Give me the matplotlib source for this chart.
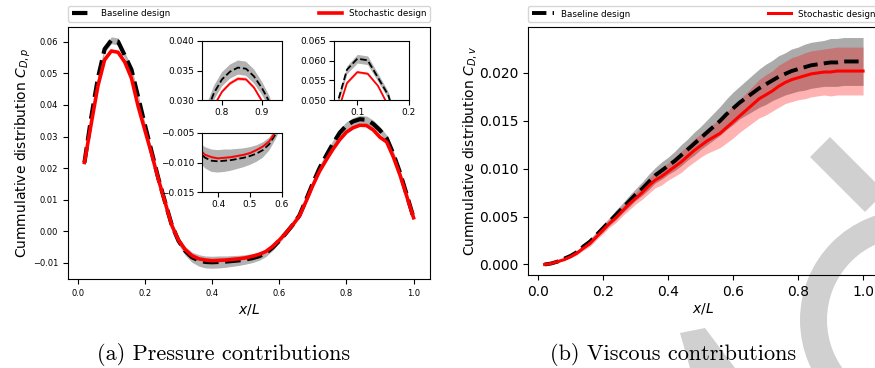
import matplotlib
matplotlib.use("Agg")
import numpy as np
import matplotlib.pyplot as plt
from matplotlib.patches import Wedge, Polygon

# x/L stations
x = [0.02, 0.04, 0.06, 0.08, 0.10, 0.12, 0.14, 0.16, 0.18, 0.20,
     0.22, 0.24, 0.26, 0.28, 0.30, 0.32, 0.34, 0.36, 0.38, 0.40,
     0.42, 0.44, 0.46, 0.48, 0.50, 0.52, 0.54, 0.56, 0.58, 0.60,
     0.62, 0.64, 0.66, 0.68, 0.70, 0.72, 0.74, 0.76, 0.78, 0.80,
     0.82, 0.84, 0.86, 0.88, 0.90, 0.92, 0.94, 0.96, 0.98, 1.00]

# pressure contribution, baseline (mean, std)
base_p = [0.0218, 0.0360, 0.0485, 0.0577, 0.0605, 0.0601, 0.0557, 0.0512, 0.0425, 0.0337,
          0.0252, 0.0168, 0.0093, 0.0020, -0.0030, -0.0062, -0.0082, -0.0092, -0.0097, -0.0098,
          -0.0097, -0.0096, -0.0094, -0.0092, -0.0089, -0.0085, -0.0079, -0.0069, -0.0052, -0.0030,
          -0.0006, 0.0020, 0.0050, 0.0100, 0.0152, 0.0200, 0.0240, 0.0278, 0.0312, 0.0335,
          0.0348, 0.0355, 0.0353, 0.0340, 0.0320, 0.0295, 0.0245, 0.0185, 0.0115, 0.0043]
base_p_std = [0.0003, 0.0006, 0.0008, 0.0010, 0.0011, 0.0011, 0.0010, 0.0009, 0.0008, 0.0007,
              0.0007, 0.0007, 0.0008, 0.0010, 0.0012, 0.0014, 0.0016, 0.0018, 0.0019, 0.0019,
              0.0019, 0.0018, 0.0017, 0.0016, 0.0015, 0.0014, 0.0013, 0.0011, 0.0009, 0.0007,
              0.0006, 0.0006, 0.0006, 0.0007, 0.0008, 0.0009, 0.0010, 0.0011, 0.0012, 0.0012,
              0.0012, 0.0012, 0.0012, 0.0012, 0.0011, 0.0010, 0.0009, 0.0008, 0.0007, 0.0006]

# pressure contribution, stochastic (mean, std)
stoch_p = [0.0218, 0.0340, 0.0460, 0.0543, 0.0571, 0.0567, 0.0536, 0.0485, 0.0395, 0.0320,
           0.0245, 0.0165, 0.0092, 0.0019, -0.0028, -0.0058, -0.0077, -0.0087, -0.0091, -0.0093,
           -0.0092, -0.0091, -0.0089, -0.0087, -0.0084, -0.0079, -0.0073, -0.0064, -0.0048, -0.0028,
           -0.0005, 0.0020, 0.0048, 0.0095, 0.0145, 0.0190, 0.0226, 0.0260, 0.0290, 0.0314,
           0.0328, 0.0336, 0.0335, 0.0321, 0.0298, 0.0283, 0.0235, 0.0177, 0.0110, 0.0043]
stoch_p_std = [0.0001, 0.0002, 0.0002, 0.0002, 0.0003, 0.0003, 0.0002, 0.0002, 0.0002, 0.0002,
               0.0002, 0.0002, 0.0002, 0.0002, 0.0002, 0.0002, 0.0002, 0.0002, 0.0002, 0.0002,
               0.0002, 0.0002, 0.0002, 0.0002, 0.0002, 0.0002, 0.0002, 0.0002, 0.0002, 0.0002,
               0.0002, 0.0002, 0.0002, 0.0002, 0.0002, 0.0002, 0.0002, 0.0002, 0.0003, 0.0003,
               0.0003, 0.0003, 0.0003, 0.0003, 0.0003, 0.0002, 0.0002, 0.0002, 0.0002, 0.0002]

# viscous contribution
base_v = [0.0000, 0.0001, 0.0003, 0.0006, 0.0009, 0.0013, 0.0019, 0.0024, 0.0031, 0.0038,
          0.0045, 0.0052, 0.0059, 0.0066, 0.0073, 0.0079, 0.0086, 0.0093, 0.0098, 0.0103,
          0.0108, 0.0114, 0.0120, 0.0126, 0.0132, 0.0138, 0.0144, 0.0150, 0.0157, 0.0163,
          0.0169, 0.0174, 0.0179, 0.0184, 0.0188, 0.0192, 0.0196, 0.0199, 0.0202, 0.0204,
          0.0206, 0.0208, 0.0209, 0.0210, 0.0211, 0.0211, 0.0212, 0.0212, 0.0212, 0.0212]
stoch_v = [0.0000, 0.0001, 0.0003, 0.0005, 0.0008, 0.0012, 0.0017, 0.0022, 0.0029, 0.0036,
           0.0043, 0.0049, 0.0056, 0.0063, 0.0069, 0.0075, 0.0082, 0.0088, 0.0092, 0.0097,
           0.0102, 0.0107, 0.0113, 0.0119, 0.0124, 0.0129, 0.0133, 0.0137, 0.0143, 0.0149,
           0.0155, 0.0161, 0.0167, 0.0173, 0.0177, 0.0181, 0.0186, 0.0190, 0.0193, 0.0195,
           0.0197, 0.0199, 0.0200, 0.0201, 0.0201, 0.0202, 0.0202, 0.0202, 0.0202, 0.0202]
visc_std = [0.0000, 0.0000, 0.0001, 0.0001, 0.0001, 0.0002, 0.0002, 0.0003, 0.0003, 0.0004,
            0.0004, 0.0005, 0.0005, 0.0006, 0.0006, 0.0007, 0.0008, 0.0008, 0.0009, 0.0009,
            0.0010, 0.0011, 0.0011, 0.0012, 0.0012, 0.0013, 0.0014, 0.0015, 0.0016, 0.0017,
            0.0017, 0.0018, 0.0019, 0.0020, 0.0021, 0.0021, 0.0022, 0.0022, 0.0023, 0.0023,
            0.0024, 0.0024, 0.0024, 0.0024, 0.0025, 0.0025, 0.0025, 0.0025, 0.0025, 0.0025]

x = np.array(x)
base_p, base_p_std = np.array(base_p), np.array(base_p_std)
stoch_p, stoch_p_std = np.array(stoch_p), np.array(stoch_p_std)
base_v, stoch_v, visc_std = np.array(base_v), np.array(stoch_v), np.array(visc_std)

W, H = 875, 368
fig = plt.figure(figsize=(W / 100, H / 100), dpi=100)


def px(l, t, r, b):
    # pixel box -> figure fraction rect
    return [l / W, 1 - b / H, (r - l) / W, (b - t) / H]


# watermark (behind everything)
bg = fig.add_axes([0, 0, 1, 1], zorder=-5)
bg.set_xlim(0, W)
bg.set_ylim(H, 0)
bg.axis("off")
wm = "#d0d0d0"
bg.add_patch(Wedge((910, 320), 110, 0, 360, width=27, color=wm, lw=0))
bg.add_patch(Polygon([(810, 157), (830, 137), (885, 192), (865, 212)], closed=True, color=wm, lw=0))
bg.add_patch(Polygon([(680, 333), (705, 328), (735, 368), (690, 368)], closed=True, color=wm, lw=0))


def draw(ax, lw_b, lw_r, lab=True):
    ax.fill_between(x, base_p - base_p_std, base_p + base_p_std, color="k", alpha=0.3, lw=0)
    ax.fill_between(x, stoch_p - stoch_p_std, stoch_p + stoch_p_std, color="r", alpha=0.3, lw=0)
    ax.plot(x, base_p, "k--", lw=lw_b, label="Baseline design" if lab else None)
    ax.plot(x, stoch_p, "r-", lw=lw_r, label="Stochastic design" if lab else None)


# (a) pressure
ax1 = fig.add_axes(px(68, 27, 430, 279))
draw(ax1, 3.0, 2.6)
ax1.set_xlim(-0.029, 1.049)
ax1.set_ylim(-0.0151, 0.0647)
ax1.tick_params(labelsize=6)
ax1.set_xlabel("$x/L$", fontsize=10, labelpad=3)
ax1.set_ylabel("Cummulative distribution $C_{D,p}$", fontsize=10, labelpad=0)
ax1.legend(loc="lower left", bbox_to_anchor=(0, 1.02, 1, 0.1), mode="expand", ncol=2,
           fontsize=6.3, borderaxespad=0, handlelength=2.6)

insets = [
    (px(202, 41, 282, 100), (0.75, 0.95), (0.030, 0.040), [0.8, 0.9], [0.030, 0.035, 0.040]),
    (px(334, 41, 409, 100), (0.055, 0.2), (0.050, 0.065), [0.1, 0.2], [0.050, 0.055, 0.060, 0.065]),
    (px(202, 133, 282, 192), (0.35, 0.6), (-0.015, -0.005), [0.4, 0.5, 0.6], [-0.015, -0.010, -0.005]),
]
for rect, xl, yl, xt, yt in insets:
    ai = fig.add_axes(rect)
    draw(ai, 1.3, 1.3, lab=False)
    ai.set_xlim(*xl)
    ai.set_ylim(*yl)
    ai.set_xticks(xt)
    ai.set_yticks(yt)
    ai.tick_params(labelsize=6.5, pad=2)

# (b) viscous
ax2 = fig.add_axes(px(528, 27, 879, 275))
ax2.patch.set_alpha(0)
ax2.fill_between(x, base_v - visc_std, base_v + visc_std, color="k", alpha=0.33, lw=0)
ax2.fill_between(x, stoch_v - visc_std, stoch_v + visc_std, color="r", alpha=0.3, lw=0)
ax2.plot(x, base_v, "k--", lw=2.8, label="Baseline design")
ax2.plot(x, stoch_v, "r-", lw=2.2, label="Stochastic design")
ax2.set_xlim(-0.031, 1.049)
ax2.set_ylim(-0.0011, 0.0248)
ax2.set_yticks([0.0, 0.005, 0.010, 0.015, 0.020])
ax2.tick_params(labelsize=10)
ax2.set_xlabel("$x/L$", fontsize=10, labelpad=2)
ax2.set_ylabel("Cummulative distribution $C_{D,v}$", fontsize=10, labelpad=0)
ax2.legend(loc="lower left", bbox_to_anchor=(0, 1.02, 1, 0.1), mode="expand", ncol=2,
           fontsize=6.3, borderaxespad=0, handlelength=2.6)

fig.text(224 / W, 1 - 354 / H, "(a) Pressure contributions", ha="center", va="center",
         fontfamily="cmr10", fontsize=16)
fig.text(673 / W, 1 - 354 / H, "(b) Viscous contributions", ha="center", va="center",
         fontfamily="cmr10", fontsize=16)

fig.savefig("out.png", dpi=100, facecolor="white")
